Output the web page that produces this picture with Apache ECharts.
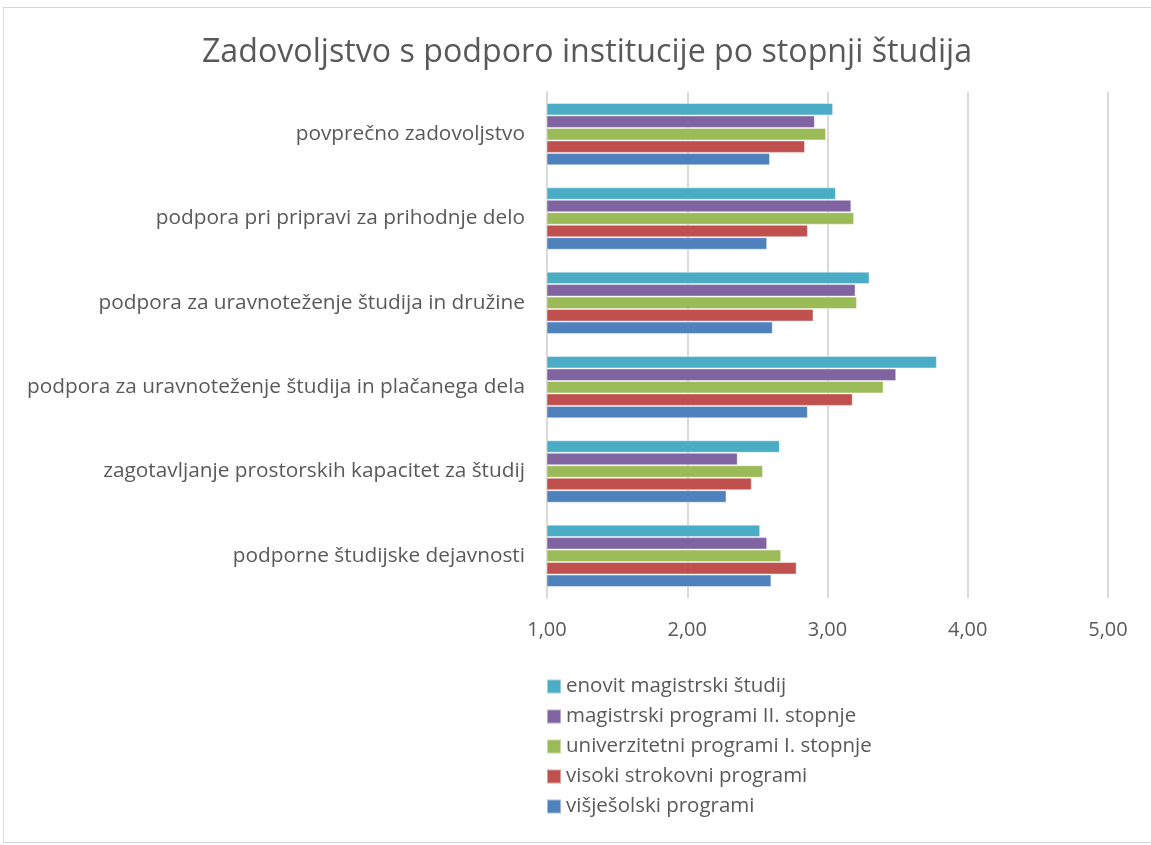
<!DOCTYPE html>
<html>
<head>
<meta charset="utf-8">
<script src="https://cdn.jsdelivr.net/npm/echarts@6/dist/echarts.min.js"></script>
<style>
  html, body { margin: 0; padding: 0; background: #fff; }
  #frame { position: absolute; left: 3px; top: 7px; width: 1150px; height: 836px; border: 1px solid #d9d9d9; border-right: none; box-sizing: border-box; }
  #myChart { position: absolute; left: 0; top: 0; width: 1151px; height: 845px; }
</style>
</head>
<body>
<div id="frame"></div>
<div id="myChart"></div>
<script>
// kategorije od spodaj navzgor
const categories = [
  "podporne študijske dejavnosti",
  "zagotavljanje prostorskih kapacitet za študij",
  "podpora za uravnoteženje študija in plačanega dela",
  "podpora za uravnoteženje študija in družine",
  "podpora pri pripravi za prihodnje delo",
  "povprečno zadovoljstvo"
];

const enovit = [2.52, 2.66, 3.78, 3.30, 3.06, 3.04];
const magistrski = [2.57, 2.36, 3.49, 3.20, 3.17, 2.91];
const univerzitetni = [2.67, 2.54, 3.40, 3.21, 3.19, 2.99];
const visokiStrokovni = [2.78, 2.46, 3.18, 2.90, 2.86, 2.84];
const visjesolski = [2.60, 2.28, 2.86, 2.61, 2.57, 2.59];

// prva serija je v skupini zgoraj
const seriesNames = [
  "enovit magistrski študij",
  "magistrski programi II. stopnje",
  "univerzitetni programi I. stopnje",
  "visoki strokovni programi",
  "višješolski programi"
];
const seriesData = [enovit, magistrski, univerzitetni, visokiStrokovni, visjesolski];
const colors = ["#4BACC6", "#8064A2", "#9BBB59", "#C0504D", "#4F81BD"];

const FONT = "Open Sans";
const chart = echarts.init(document.getElementById("myChart"));

chart.setOption({
  animation: false,
  textStyle: { fontFamily: FONT, color: "#595959" },
  title: {
    text: "Zadovoljstvo s podporo institucije po stopnji študija",
    left: 582,
    textAlign: "center",
    top: 32,
    textStyle: { fontFamily: FONT, fontSize: 32.2, fontWeight: "normal", color: "#595959" }
  },
  grid: { left: 547, right: 43, top: 92, bottom: 247, containLabel: false },
  legend: {
    orient: "vertical",
    left: 541,
    top: 671,
    itemWidth: 14,
    itemHeight: 14,
    itemGap: 9,
    icon: "rect",
    data: seriesNames,
    textStyle: { fontFamily: FONT, fontSize: 20.5, color: "#595959" }
  },
  xAxis: {
    type: "value",
    min: 1,
    max: 5,
    interval: 1,
    axisLine: { show: false },
    axisTick: { show: false },
    splitLine: { lineStyle: { color: "#d9d9d9", width: 2 } },
    axisLabel: {
      fontFamily: FONT,
      fontSize: 20,
      color: "#595959",
      margin: 22,
      formatter: (v) => v.toFixed(2).replace(".", ",")
    }
  },
  yAxis: {
    type: "category",
    data: categories,
    axisLine: { show: true, lineStyle: { color: "#d9d9d9", width: 2 } },
    axisTick: { show: false },
    axisLabel: { fontFamily: FONT, fontSize: 20.8, color: "#595959", margin: 22 }
  },
  series: seriesData.map((d, i) => ({
    name: seriesNames[i],
    type: "bar",
    data: d,
    barGap: "0%",
    barCategoryGap: "26%",
    itemStyle: { color: colors[i], borderColor: "rgba(255,255,255,0.45)", borderWidth: 1 }
  }))
});
</script>
</body>
</html>
